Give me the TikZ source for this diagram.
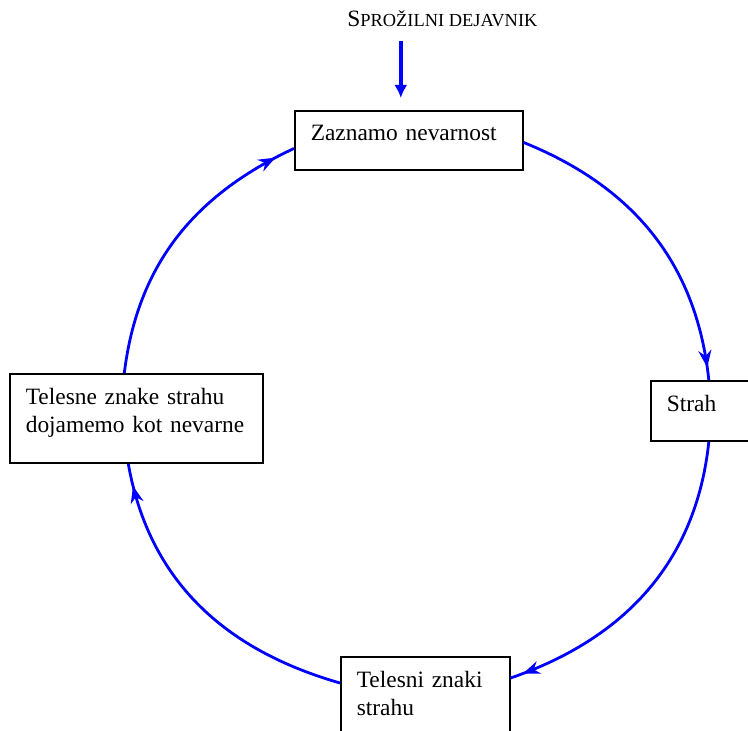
\documentclass[tikz,border=0pt]{standalone}
\usepackage{fontspec}
\setmainfont{Liberation Serif}
\usetikzlibrary{arrows.meta, decorations.markings}

\begin{document}
\begin{tikzpicture}[x=0.5pt, y=0.5pt,
    box/.style={draw, line width=0.8pt, anchor=north west, align=left,
        inner xsep=8pt, inner ysep=7pt, font=\fontsize{11.7}{14}\selectfont},
    flow/.style={blue, line width=1.4pt, postaction={decorate},
        decoration={markings, mark=at position #1 with {\arrow{Stealth[length=8.5pt,width=6.5pt]}}}},
    flow/.default=0.95,
    trigger/.style={blue, line width=2pt, -{Latex[length=6.5pt,width=6.5pt]}}]
    \useasboundingbox (0,0) rectangle (748,-731);

    \node[anchor=base west, inner sep=0, font=\fontsize{11.7}{14}\selectfont] (sprozilni) at (347,-27)
        {S{\fontsize{9.2}{11}\selectfont PROŽILNI DEJAVNIK}};

    \node[box, text width=98pt, text depth=8pt] (zaznamo) at (294,-110) {Zaznamo nevarnost};
    \node[box, text width=34pt, text depth=8pt] (strah) at (650,-380) {Strah};
    \node[box, text width=68.5pt, text depth=24pt] (telesni) at (340,-656) {Telesni znaki\\strahu};
    \node[box, text width=110.5pt, text depth=22.5pt] (telesne) at (9,-373) {Telesne znake strahu\\dojamemo kot nevarne};

    % sprozilec
    \coordinate (z) at ([xshift=-4pt]zaznamo.north);
    \draw[trigger] (sprozilni.south -| z) ++(0,-13) -- ([yshift=6pt]z);

    % krog
    \coordinate (p1) at ([yshift=-1pt]zaznamo.east);
    \coordinate (p2) at ([xshift=4pt]strah.north);
    \coordinate (p3) at ([xshift=4pt]strah.south);
    \coordinate (p4) at ([yshift=-11pt]telesni.north east);
    \coordinate (p5) at ([yshift=-13.5pt]telesni.north west);
    \coordinate (p6) at ([xshift=-4pt]telesne.south);
    \coordinate (p7) at ([xshift=-6pt]telesne.north);
    \coordinate (p8) at ([yshift=-4pt]zaznamo.west);
    \foreach \a/\b/\o/\i/\m in {p1/p2/-22/96/0.96, p3/p4/-96/19/0.96,
                                p5/p6/164/280/0.93, p7/p8/83/205/0.93}
        \draw[flow=\m] (\a) to[out=\o, in=\i] (\b);
\end{tikzpicture}
\end{document}
